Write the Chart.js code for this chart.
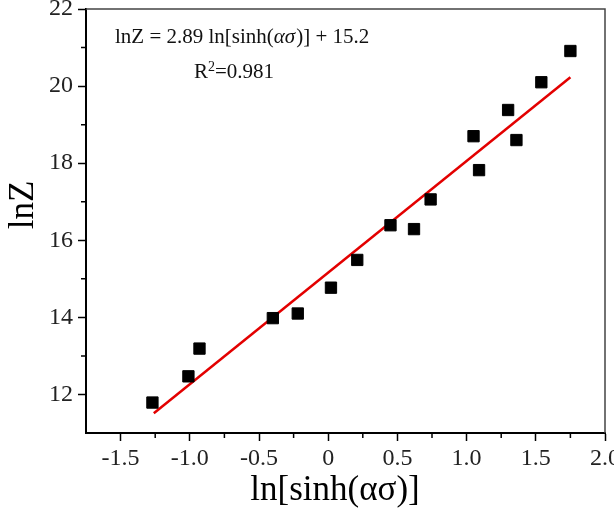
<!DOCTYPE html>
<html>
<head>
<meta charset="utf-8">
<script src="https://cdn.jsdelivr.net/npm/chart.js@4.4.0/dist/chart.umd.min.js"></script>
<style>
  html, body { margin: 0; padding: 0; background: #fff; }
  #grafico { display: block; }
</style>
</head>
<body>
<canvas id="grafico" width="614" height="515"></canvas>
<script>
const xPuntos = [-1.27, -1.01, -0.93, -0.40, -0.22, 0.02, 0.21, 0.45, 0.62, 0.74, 1.05, 1.09, 1.30, 1.36, 1.54, 1.75];
const yPuntos = [11.79, 12.47, 13.19, 13.98, 14.10, 14.77, 15.49, 16.39, 16.29, 17.06, 18.70, 17.82, 19.38, 18.60, 20.10, 20.91];

// Recta de ajuste (extremos)
const xAjuste = [-1.26, 1.75];
const yAjuste = [11.51, 20.23];

// Marcas de los ejes
const xTicks = [-1.5, -1.0, -0.5, 0, 0.5, 1.0, 1.5, 2.0];
const yTicks = [12, 14, 16, 18, 20, 22];
const xMenores = [-1.25, -0.75, -0.25, 0.25, 0.75, 1.25, 1.75];
const yMenores = [13, 15, 17, 19, 21];

// Textos
const tituloX = "ln[sinh(ασ)]";
const tituloY = "lnZ";
const ecuacion = ["lnZ = 2.89 ln[sinh(", "ασ", ")] + 15.2"];
const textoR2 = ["R", "2", "=0.981"];

const FUENTE = '"Liberation Serif", "Times New Roman", serif';

// Marco superior/derecho, marcas menores, títulos y ecuación
const extras = {
    id: 'extras',
    afterDraw(chart) {
        const { ctx, chartArea: a, scales } = chart;
        ctx.save();

        // marco fino arriba y a la derecha
        ctx.strokeStyle = '#444';
        ctx.lineWidth = 1.5;
        ctx.beginPath();
        ctx.moveTo(a.left, a.top);
        ctx.lineTo(a.right, a.top);
        ctx.lineTo(a.right, a.bottom);
        ctx.stroke();

        // marcas menores
        ctx.strokeStyle = '#000';
        ctx.lineWidth = 1.5;
        ctx.beginPath();
        xMenores.forEach(v => {
            const px = scales.x.getPixelForValue(v);
            ctx.moveTo(px, a.bottom);
            ctx.lineTo(px, a.bottom + 5);
        });
        yMenores.forEach(v => {
            const py = scales.y.getPixelForValue(v);
            ctx.moveTo(a.left, py);
            ctx.lineTo(a.left - 5, py);
        });
        ctx.stroke();

        // títulos de los ejes
        ctx.fillStyle = '#000';
        ctx.font = `35px ${FUENTE}`;
        ctx.textAlign = 'center';
        ctx.textBaseline = 'alphabetic';
        ctx.fillText(tituloX, 335, 500);

        ctx.save();
        ctx.translate(33, 205);
        ctx.rotate(-Math.PI / 2);
        ctx.fillText(tituloY, 0, 0);
        ctx.restore();

        // ecuación del ajuste
        ctx.fillStyle = '#111';
        ctx.textAlign = 'left';
        let x = 115;
        let y = 43;
        ctx.font = `21px ${FUENTE}`;
        ctx.fillText(ecuacion[0], x, y);
        x += ctx.measureText(ecuacion[0]).width;
        ctx.font = `italic 21px ${FUENTE}`;
        ctx.fillText(ecuacion[1], x, y);
        x += ctx.measureText(ecuacion[1]).width + 1;
        ctx.font = `21px ${FUENTE}`;
        ctx.fillText(ecuacion[2], x, y);

        // R² con superíndice
        x = 194;
        y = 78;
        ctx.fillText(textoR2[0], x, y);
        x += ctx.measureText(textoR2[0]).width;
        ctx.font = `14px ${FUENTE}`;
        ctx.fillText(textoR2[1], x, y - 7);
        x += ctx.measureText(textoR2[1]).width;
        ctx.font = `21px ${FUENTE}`;
        ctx.fillText(textoR2[2], x, y);

        ctx.restore();
    }
};

const ctx = document.getElementById('grafico');

new Chart(ctx, {
    type: 'scatter',
    data: {
        datasets: [
            {
                label: 'Ajuste',
                type: 'line',
                data: xAjuste.map((x, i) => ({ x: x, y: yAjuste[i] })),
                borderColor: '#e30000',
                borderWidth: 2.5,
                pointRadius: 0,
                fill: false,
                order: 2
            },
            {
                label: 'Datos',
                data: xPuntos.map((x, i) => ({ x: x, y: yPuntos[i] })),
                pointStyle: 'rect',
                pointRadius: 8,
                backgroundColor: '#000',
                borderColor: '#000',
                borderWidth: 1,
                order: 1
            }
        ]
    },
    options: {
        responsive: false,
        animation: false,
        layout: { padding: { left: 0, top: 9, right: 8, bottom: 0 } },
        plugins: {
            legend: { display: false },
            tooltip: { enabled: false }
        },
        scales: {
            x: {
                type: 'linear',
                min: -1.75,
                max: 2.0,
                afterBuildTicks: s => { s.ticks = xTicks.map(v => ({ value: v })); },
                afterFit: s => { s.height = 82; s.paddingLeft = 0; s.paddingRight = 0; },
                grid: { drawOnChartArea: false, drawTicks: true, tickLength: 8, tickWidth: 1.5, tickColor: '#000' },
                border: { display: true, width: 2, color: '#000' },
                ticks: {
                    padding: 3,
                    color: '#222',
                    font: { family: FUENTE, size: 24 },
                    maxRotation: 0,
                    autoSkip: false,
                    callback: v => v === 0 ? '0' : Number(v).toFixed(1)
                }
            },
            y: {
                type: 'linear',
                min: 11,
                max: 22,
                afterBuildTicks: s => { s.ticks = yTicks.map(v => ({ value: v })); },
                afterFit: s => { s.width = 86; s.paddingTop = 0; s.paddingBottom = 0; },
                grid: { drawOnChartArea: false, drawTicks: true, tickLength: 8, tickWidth: 1.5, tickColor: '#000' },
                border: { display: true, width: 2, color: '#000' },
                ticks: {
                    padding: 5,
                    color: '#222',
                    font: { family: FUENTE, size: 24 },
                    autoSkip: false,
                    callback: v => String(v)
                }
            }
        }
    },
    plugins: [extras]
});
</script>
</body>
</html>
